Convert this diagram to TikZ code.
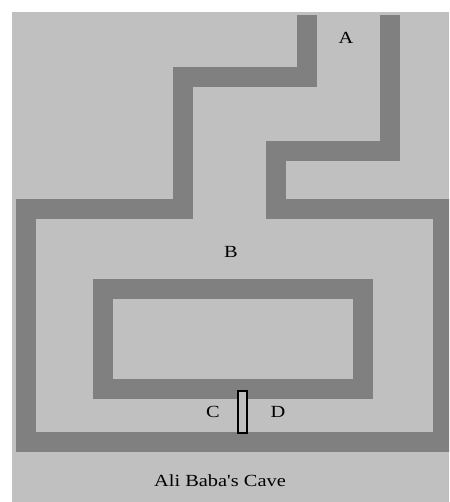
\documentclass[tikz,border=0pt]{standalone}
\usepackage{fontspec}
\setmainfont{Liberation Serif}[Ligatures=TeXOff]
\definecolor{floorgray}{HTML}{C0C0C0}
\definecolor{wallgray}{HTML}{808080}
\tikzset{
  wall/.style={draw=wallgray, line width=20pt, miter limit=10, line join=miter},
  lbl/.style={font=\fontsize{17}{17}\selectfont, text=black, inner sep=0pt, xscale=1.2},
  door/.style={draw=black, line width=1.6pt, fill=floorgray}
}
\begin{document}
\begin{tikzpicture}[x=1pt,y=-1pt]
\useasboundingbox (0,0) rectangle (449,502);
\fill[white] (0,0) rectangle (449,502);
\fill[floorgray] (12,12) rectangle (449,502);
\begin{scope}
\clip (12,15) rectangle (449,502);
\draw[wall] (306.5,15) -- (306.5,77) -- (182.5,77) -- (182.5,209) -- (25.5,209)
  -- (25.5,442) -- (443,442) -- (443,209) -- (276,209) -- (276,151.5)
  -- (389.5,151.5) -- (389.5,15);
\draw[wall] (103,289) rectangle (363,389);
\end{scope}
\node[door, minimum width=9pt, minimum height=42pt, inner sep=0pt] (door) at (242.5,412) {};
\node[lbl] (A) at (346,38) {A};
\node[lbl] (B) at (231,252) {B};
\node[lbl] (C) at (213,412) {C};
\node[lbl] (D) at (278,412) {D};
\node[lbl] (cap) at (220,481) {Ali Baba's Cave};
\end{tikzpicture}
\end{document}
